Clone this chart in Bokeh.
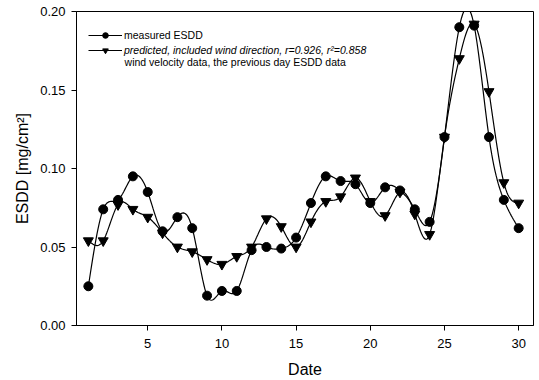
import numpy as np
from bokeh.plotting import figure
from bokeh.models import Range1d, Legend, LegendItem, Label, NumeralTickFormatter, FixedTicker
from bokeh.embed import file_html
from bokeh.resources import INLINE

days = list(range(1, 31))
measured = [0.025, 0.074, 0.080, 0.095, 0.085, 0.060, 0.069, 0.062, 0.019, 0.022,
            0.022, 0.048, 0.050, 0.049, 0.056, 0.078, 0.095, 0.092, 0.090, 0.078,
            0.088, 0.086, 0.074, 0.066, 0.120, 0.190, 0.191, 0.120, 0.080, 0.062]
predicted = [0.054, 0.054, 0.077, 0.074, 0.069, 0.059, 0.050, 0.047, 0.042, 0.039,
             0.044, 0.050, 0.068, 0.063, 0.050, 0.066, 0.079, 0.082, 0.094, 0.079,
             0.070, 0.085, 0.071, 0.058, 0.120, 0.170, 0.192, 0.149, 0.091, 0.078]
x_ticks = [5, 10, 15, 20, 25, 30]
y_ticks = [0.0, 0.05, 0.10, 0.15, 0.20]


def natural_spline(x, y, n=400):
    x = np.asarray(x, float)
    y = np.asarray(y, float)
    k = len(x)
    h = np.diff(x)
    A = np.zeros((k, k))
    b = np.zeros(k)
    A[0, 0] = 1
    A[-1, -1] = 1
    for i in range(1, k - 1):
        A[i, i - 1] = h[i - 1]
        A[i, i] = 2 * (h[i - 1] + h[i])
        A[i, i + 1] = h[i]
        b[i] = 6 * ((y[i + 1] - y[i]) / h[i] - (y[i] - y[i - 1]) / h[i - 1])
    M = np.linalg.solve(A, b)
    xs = np.linspace(x[0], x[-1], n)
    idx = np.clip(np.searchsorted(x, xs) - 1, 0, k - 2)
    x0, x1 = x[idx], x[idx + 1]
    hh = x1 - x0
    t0 = x1 - xs
    t1 = xs - x0
    ys = (M[idx] * t0 ** 3 / (6 * hh) + M[idx + 1] * t1 ** 3 / (6 * hh)
          + (y[idx] / hh - M[idx] * hh / 6) * t0 + (y[idx + 1] / hh - M[idx + 1] * hh / 6) * t1)
    return xs, ys


FONT = "Liberation Sans"

p = figure(width=539, height=380, output_backend="svg", toolbar_location=None,
           x_range=Range1d(0.2, 31.0), y_range=Range1d(0.0, 0.20),
           min_border_left=76, min_border_right=6, min_border_top=11, min_border_bottom=53)
p.xgrid.visible = False
p.ygrid.visible = False
p.outline_line_color = "black"
p.outline_line_width = 1
p.background_fill_color = "white"
p.border_fill_color = "white"

mx, my = natural_spline(days, measured)
px, py = natural_spline(days, predicted)

l1 = p.line(mx, my, line_color="black", line_width=1.2)
s1 = p.scatter(days, measured, marker="circle", size=9, fill_color="black", line_color="black")
l2 = p.line(px, py, line_color="black", line_width=1.2)
s2 = p.scatter(days, predicted, marker="inverted_triangle", size=10, fill_color="black", line_color="black")

for ax in (p.xaxis[0], p.yaxis[0]):
    ax.axis_line_color = "black"
    ax.major_tick_line_color = "black"
    ax.major_tick_out = 5
    ax.major_tick_in = 0
    ax.minor_tick_line_color = None
    ax.major_label_text_font = FONT
    ax.major_label_text_font_size = "13px"
    ax.major_label_text_color = "black"
    ax.axis_label_text_font = FONT
    ax.axis_label_text_font_size = "16px"
    ax.axis_label_text_font_style = "normal"
    ax.axis_label_text_color = "black"

p.xaxis.ticker = FixedTicker(ticks=x_ticks)
p.yaxis.ticker = FixedTicker(ticks=y_ticks)
p.yaxis.formatter = NumeralTickFormatter(format="0.00")
p.xaxis.axis_label = "Date"
p.yaxis.axis_label = "ESDD [mg/cm²]"
p.xaxis.major_label_standoff = 8
p.xaxis.axis_label_standoff = 10
p.yaxis.major_label_standoff = 6
p.yaxis.axis_label_standoff = 6

leg1 = Legend(items=[LegendItem(label="measured ESDD", renderers=[l1, s1])],
              location=(12, 283))
leg2 = Legend(items=[LegendItem(label="predicted, included wind direction, r=0.926, r²=0.858",
                                renderers=[l2, s2])],
              location=(12, 268))
for lg in (leg1, leg2):
    lg.padding = 0
    lg.margin = 0
    lg.spacing = 0
    lg.border_line_color = None
    lg.background_fill_alpha = 0
    lg.glyph_width = 34
    lg.glyph_height = 14
    lg.label_height = 14
    lg.label_standoff = 2
    lg.label_text_font = FONT
    lg.label_text_font_size = "10.5px"
    lg.label_text_color = "black"
leg2.label_text_font_style = "italic"
p.add_layout(leg1)
p.add_layout(leg2)

lab = Label(x=3.44, y=0.1677, text="wind velocity data, the previous day ESDD data",
            text_font=FONT, text_font_size="10.5px", text_color="black",
            text_baseline="middle", text_align="left")
p.add_layout(lab)

open("out.html", "w").write(file_html(p, INLINE))
